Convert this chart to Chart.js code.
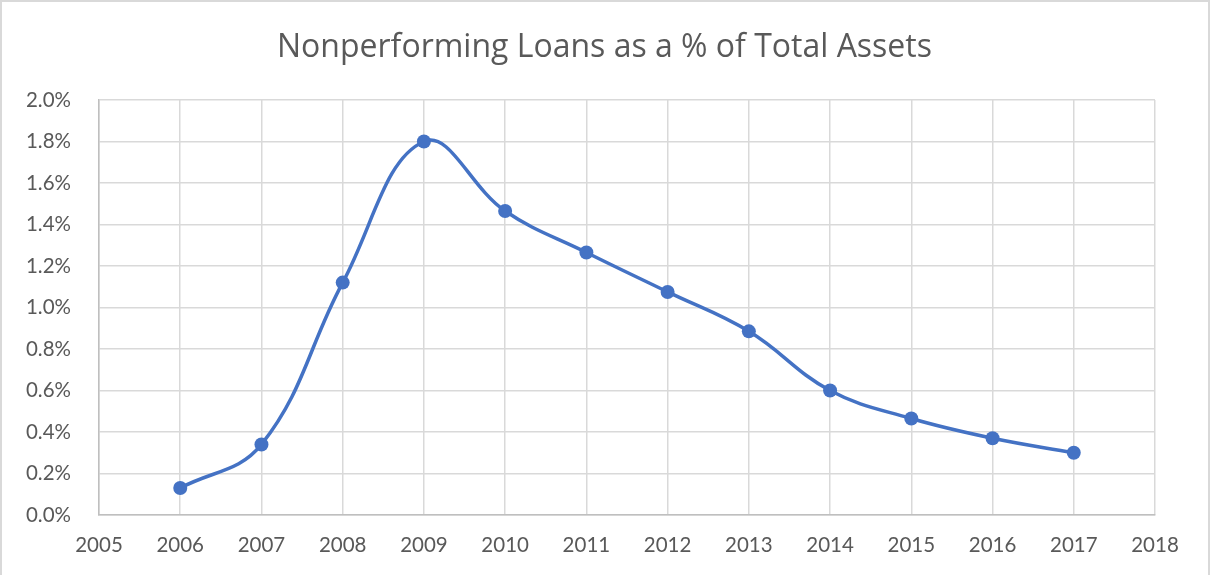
<!DOCTYPE html>
<html>
<head>
<meta charset="utf-8">
<script src="https://cdn.jsdelivr.net/npm/chart.js@4/dist/chart.umd.min.js"></script>
<style>
  html, body { margin: 0; padding: 0; background: #ffffff; }
  #wrap { width: 1225px; height: 575px; position: relative; }
</style>
</head>
<body>
<div id="wrap"><canvas id="c" width="1225" height="575"></canvas></div>
<script>
const years = [2006, 2007, 2008, 2009, 2010, 2011, 2012, 2013, 2014, 2015, 2016, 2017];
const nplPercent = [0.13, 0.34, 1.12, 1.80, 1.465, 1.265, 1.075, 0.885, 0.60, 0.465, 0.37, 0.30];
const xMin = 2005, xMax = 2018;
const yMin = 0, yMax = 2.0, yStep = 0.2;
const titleText = 'Nonperforming Loans as a % of Total Assets';

const frame = {
  id: 'frame',
  afterDraw(chart) {
    const ctx = chart.ctx;
    ctx.save();
    ctx.strokeStyle = '#d9d9d9';
    ctx.lineWidth = 2;
    ctx.beginPath();
    ctx.moveTo(1, 575);
    ctx.lineTo(1, 1);
    ctx.lineTo(1209, 1);
    ctx.lineTo(1209, 575);
    ctx.stroke();
    ctx.restore();
  }
};

const fontFam = 'Lato, "Open Sans", sans-serif';

new Chart(document.getElementById('c'), {
  type: 'line',
  data: {
    datasets: [{
      data: years.map((y, i) => ({ x: y, y: nplPercent[i] })),
      borderColor: '#4472C4',
      backgroundColor: '#4472C4',
      borderWidth: 3.5,
      pointRadius: 7,
      pointHoverRadius: 7,
      pointBorderWidth: 0,
      tension: 0.4,
      fill: false
    }]
  },
  options: {
    responsive: false,
    animation: false,
    layout: { padding: { left: 0, right: 16, top: 0, bottom: 0 } },
    plugins: {
      legend: { display: false },
      tooltip: { enabled: false },
      title: {
        display: true,
        text: titleText,
        color: '#595959',
        font: { family: '"Open Sans", sans-serif', size: 32, weight: 'normal', lineHeight: 1.2 },
        padding: { top: 29, bottom: 32.6 }
      }
    },
    scales: {
      x: {
        type: 'linear',
        min: xMin, max: xMax,
        ticks: {
          stepSize: 1,
          color: '#595959',
          font: { family: fontFam, size: 20.5 },
          padding: 18,
          maxRotation: 0,
          callback: v => String(v)
        },
        grid: { color: '#d9d9d9', lineWidth: 1.5, drawTicks: false },
        border: { color: '#bfbfbf', width: 1.5 },
        afterFit(s) { s.height = 60; }
      },
      y: {
        min: yMin, max: yMax,
        ticks: {
          stepSize: yStep,
          color: '#595959',
          font: { family: fontFam, size: 20.5 },
          padding: 28,
          callback: v => v.toFixed(1) + '%'
        },
        grid: { color: '#d9d9d9', lineWidth: 1.5, drawTicks: false },
        border: { color: '#bfbfbf', width: 1.5 },
        afterFit(s) { s.width = 99; }
      },
      yRight: {
        position: 'right',
        min: yMin, max: yMax,
        ticks: { display: false },
        grid: { display: false, drawTicks: false },
        border: { display: false },
        afterFit(s) { s.width = 54; }
      }
    }
  },
  plugins: [frame]
});
</script>
</body>
</html>
